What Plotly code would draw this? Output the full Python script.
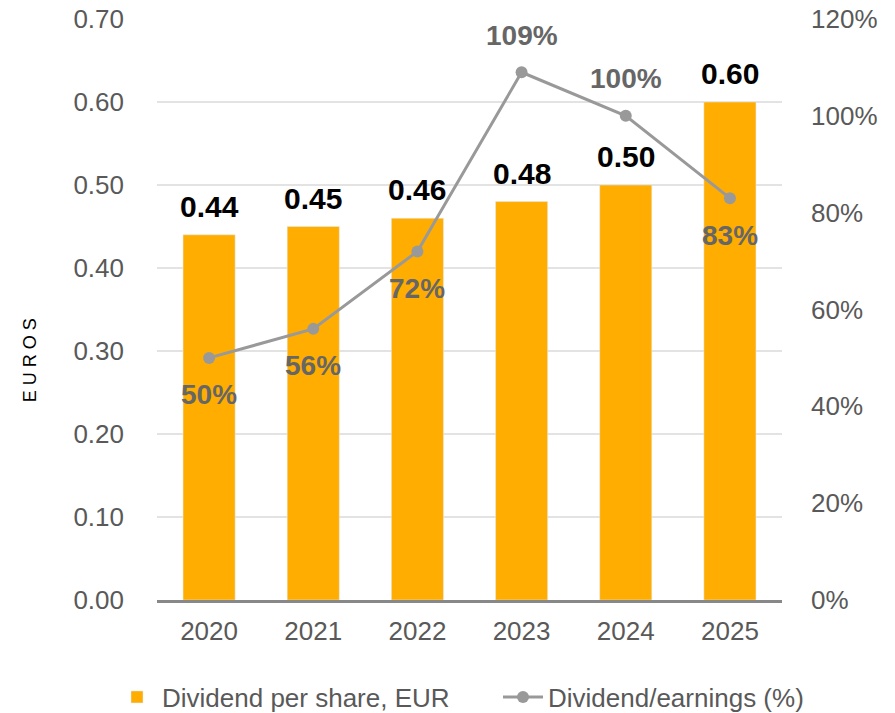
"""Dividend per share and payout ratio, 2020-2025."""

import plotly.graph_objects as go

years = ["2020", "2021", "2022", "2023", "2024", "2025"]
dividend_eur = [0.44, 0.45, 0.46, 0.48, 0.50, 0.60]
payout_pct = [50, 56, 72, 109, 100, 83]
# +1 = label above the point, -1 = below
payout_label_side = [-1, -1, -1, 1, 1, -1]

FONT = "Liberation Sans, Arial, sans-serif"
TICK_COLOR = "#595959"

fig = go.Figure()

fig.add_trace(go.Bar(
    x=years,
    y=dividend_eur,
    name="Dividend per share, EUR",
    marker_color="#FFAD00",
    width=0.5,
))

fig.add_trace(go.Scatter(
    x=years,
    y=payout_pct,
    name="Dividend/earnings (%)",
    yaxis="y2",
    mode="lines+markers",
    line=dict(color="#999999", width=3),
    marker=dict(color="#999999", size=12),
    cliponaxis=False,
))

annotations = []
# bar value labels (x given as category index, the axis is categorical)
for i, v in enumerate(dividend_eur):
    annotations.append(dict(
        x=i, y=v, xref="x", yref="y",
        text=f"{v:.2f}", showarrow=False,
        yanchor="bottom", yshift=10,
        font=dict(family=FONT, size=30, color="#000000", weight="bold"),
    ))
# payout labels
for i, (p, side) in enumerate(zip(payout_pct, payout_label_side)):
    annotations.append(dict(
        x=i, y=p, xref="x", yref="y2",
        text=f"{p}%", showarrow=False,
        yanchor="middle", yshift=37 * side,
        font=dict(family=FONT, size=28, color="#666666", weight="bold"),
    ))
annotations.append(dict(
    text="E U R O S",
    xref="paper", yref="paper",
    x=-0.203, y=0.413, xanchor="center", yanchor="middle",
    textangle=-90, showarrow=False,
    font=dict(family=FONT, size=18, color="#000000"),
))

fig.update_layout(
    width=895,
    height=713,
    margin=dict(l=157, r=113, t=19, b=113, autoexpand=False),
    plot_bgcolor="white",
    paper_bgcolor="white",
    font=dict(family=FONT, color=TICK_COLOR, size=26),
    showlegend=True,
    legend=dict(
        orientation="h",
        x=-0.072, xanchor="left",
        y=-0.167, yanchor="middle",
        font=dict(size=26, color=TICK_COLOR),
        itemwidth=40,
        entrywidth=331,
    ),
    xaxis=dict(
        type="category", range=[-0.5, len(years) - 0.5],
        showline=True, linecolor="#888888", linewidth=3,
        ticks="", tickfont=dict(size=26, color=TICK_COLOR),
        showgrid=False, automargin=False,
        ticklabelstandoff=6,
    ),
    yaxis=dict(
        range=[0, 0.70], dtick=0.10, tickformat=".2f",
        showgrid=True, gridcolor="#E3E3E3", gridwidth=2,
        zeroline=False, showline=False, automargin=False,
        tickfont=dict(size=26, color=TICK_COLOR),
        ticklabelstandoff=32, ticklabeloverflow="allow",
    ),
    yaxis2=dict(
        range=[0, 120], dtick=20, ticksuffix="%",
        overlaying="y", side="right",
        showgrid=False, zeroline=False, showline=False, automargin=False,
        tickfont=dict(size=26, color=TICK_COLOR),
        ticklabelstandoff=28, ticklabeloverflow="allow",
    ),
    annotations=annotations,
)

# drop the default 8px page margin so the figure fills the window exactly
fig.write_html(
    "out.html",
    config={"displayModeBar": False},
    post_script="document.body.style.margin = '0';",
)
